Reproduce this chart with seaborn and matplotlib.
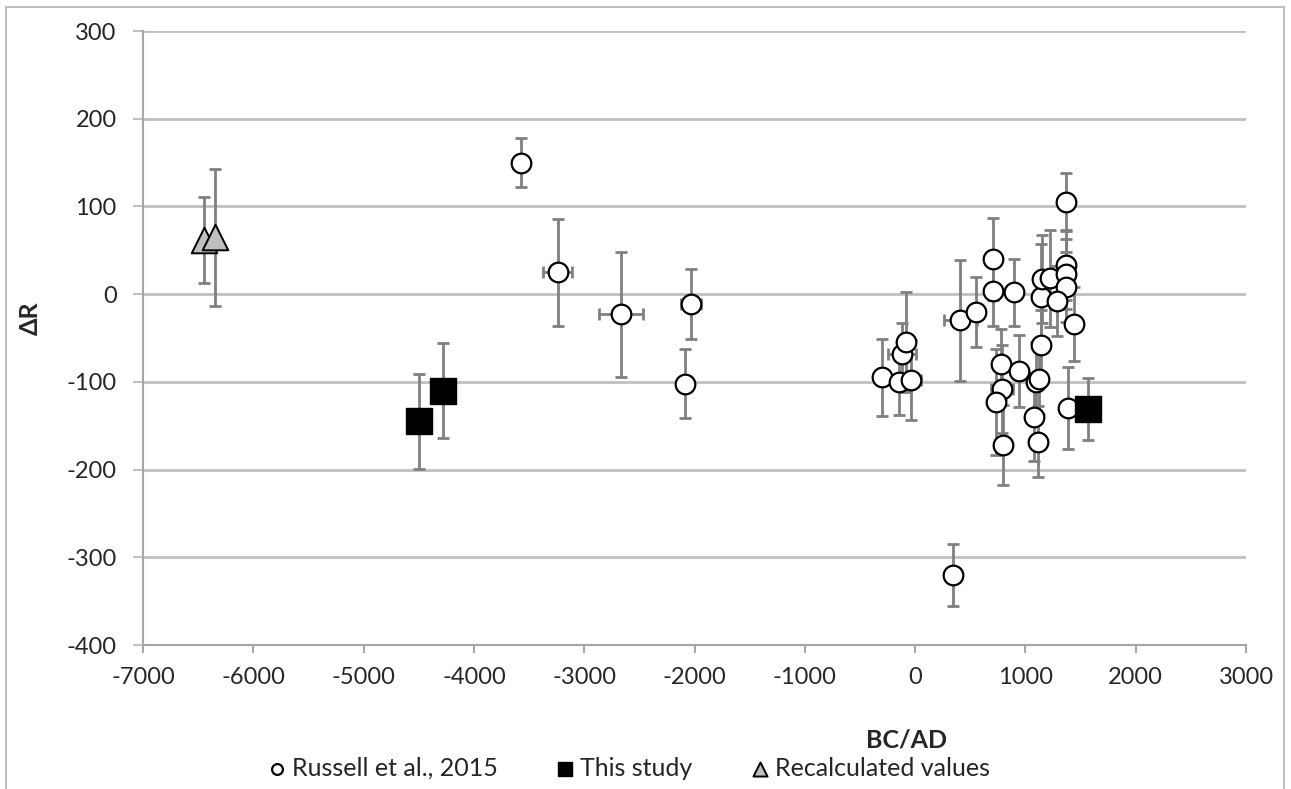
import matplotlib
matplotlib.use("Agg")
import matplotlib.pyplot as plt
import matplotlib.patches as mpatches
import pandas as pd
import seaborn as sns

# Russell et al., 2015 (x = BC/AD, y = Delta R, with errors)
russell_x = [-3570, -3240, -2670, -2030, -2090, -300, -150, -40, -120, -85,
             345, 410, 550, 710, 710, 900, 780, 785, 730, 800,
             940, 1100, 1080, 1110, 1140, 1140, 1150, 1220, 1370, 1370,
             1370, 1370, 1290, 1440, 1390, 1120]
russell_y = [150, 25, -23, -11, -102, -95, -100, -98, -68, -55,
             -320, -30, -20, 40, 4, 2, -80, -108, -123, -172,
             -88, -100, -140, -168, -58, -3, 17, 18, 105, 33,
             23, 8, -8, -34, -130, -97]
russell_yerr = [28, 61, 71, 40, 39, 44, 38, 46, 35, 57,
                35, 69, 40, 47, 40, 38, 40, 50, 60, 46,
                41, 45, 50, 40, 40, 60, 50, 55, 33, 40,
                40, 40, 40, 42, 47, 40]
russell_xerr = [0, 130, 200, 90, 0, 0, 0, 90, 130, 0,
                0, 150, 0, 0, 0, 0, 50, 100, 0, 70,
                0, 0, 0, 0, 0, 0, 0, 0, 0, 0,
                0, 0, 0, 0, 0, 0]

# This study
study_x = [-4500, -4280, 1570]
study_y = [-145, -110, -131]
study_yerr = [54, 54, 35]

# Recalculated values
recalc_x = [-6450, -6350]
recalc_y = [62, 65]
recalc_yerr = [49, 78]

sns.set_style("white")
plt.rcParams['font.family'] = ['Lato', 'DejaVu Sans']
plt.rcParams['axes.unicode_minus'] = False

fig = plt.figure(figsize=(12.91, 7.89), dpi=100)
ax = fig.add_axes([143 / 1291, 1 - 645 / 789, (1246 - 143) / 1291, (645 - 31) / 789])

err_kw = dict(fmt='none', ecolor='#808080', elinewidth=2, capsize=4, capthick=2, zorder=2)
ax.errorbar(russell_x, russell_y, yerr=russell_yerr, xerr=russell_xerr, **err_kw)
ax.errorbar(study_x, study_y, yerr=study_yerr, **err_kw)
ax.errorbar(recalc_x, recalc_y, yerr=recalc_yerr, **err_kw)

df_r = pd.DataFrame({'x': russell_x, 'y': russell_y})
df_s = pd.DataFrame({'x': study_x, 'y': study_y})
df_c = pd.DataFrame({'x': recalc_x, 'y': recalc_y})

sns.scatterplot(df_r, x='x', y='y', ax=ax, marker='o', s=200, color='white',
                edgecolor='black', linewidth=1.6, zorder=3, label='Russell et al., 2015')
sns.scatterplot(df_s, x='x', y='y', ax=ax, marker='s', s=360, color='black',
                edgecolor='black', linewidth=1, zorder=3, label='This study')
sns.scatterplot(df_c, x='x', y='y', ax=ax, marker='^', s=340, color='#bfbfbf',
                edgecolor='black', linewidth=1.4, zorder=3, label='Recalculated values')

ax.set_xlim(-7000, 3000)
ax.set_ylim(-400, 300)
ax.set_xticks(range(-7000, 3001, 1000))
ax.set_yticks(range(-400, 301, 100))
ax.yaxis.grid(True, color='#c0c0c0', linewidth=2)
ax.set_axisbelow(True)

for side in ['top', 'right']:
    ax.spines[side].set_visible(False)
for side in ['left', 'bottom']:
    ax.spines[side].set_color('#a6a6a6')
    ax.spines[side].set_linewidth(1.5)

ax.tick_params(axis='y', direction='out', length=7, width=1.5, color='#c0c0c0',
               pad=12, labelsize=17, left=True)
ax.tick_params(axis='x', direction='out', length=6, width=1.5, color='#a6a6a6',
               pad=10, labelsize=17, bottom=True)

ax.set_xlabel('BC/AD', fontsize=18, fontweight='bold')
ax.set_ylabel('ΔR', fontsize=18, fontweight='bold')
ax.xaxis.set_label_coords((907 - 143) / (1246 - 143), -(728 - 645) / (645 - 31))
ax.yaxis.set_label_coords(-(143 - 42) / (1246 - 143), (645 - 318) / (645 - 31))

handles, labels = ax.get_legend_handles_labels()
ax.legend_.remove()
fig.legend(handles, labels, loc='center', bbox_to_anchor=(627 / 1291, 1 - 768 / 789),
           ncol=3, frameon=False, fontsize=18, markerscale=0.55,
           handletextpad=0.1, columnspacing=2.2, handlelength=1)

fig.patches.append(mpatches.Rectangle((6 / 1291, -0.02), (1284 - 6) / 1291, 1.02 - 7 / 789,
                                      transform=fig.transFigure, fill=False,
                                      edgecolor='#bfbfbf', linewidth=1.5))

fig.savefig('out.png', dpi=100)
